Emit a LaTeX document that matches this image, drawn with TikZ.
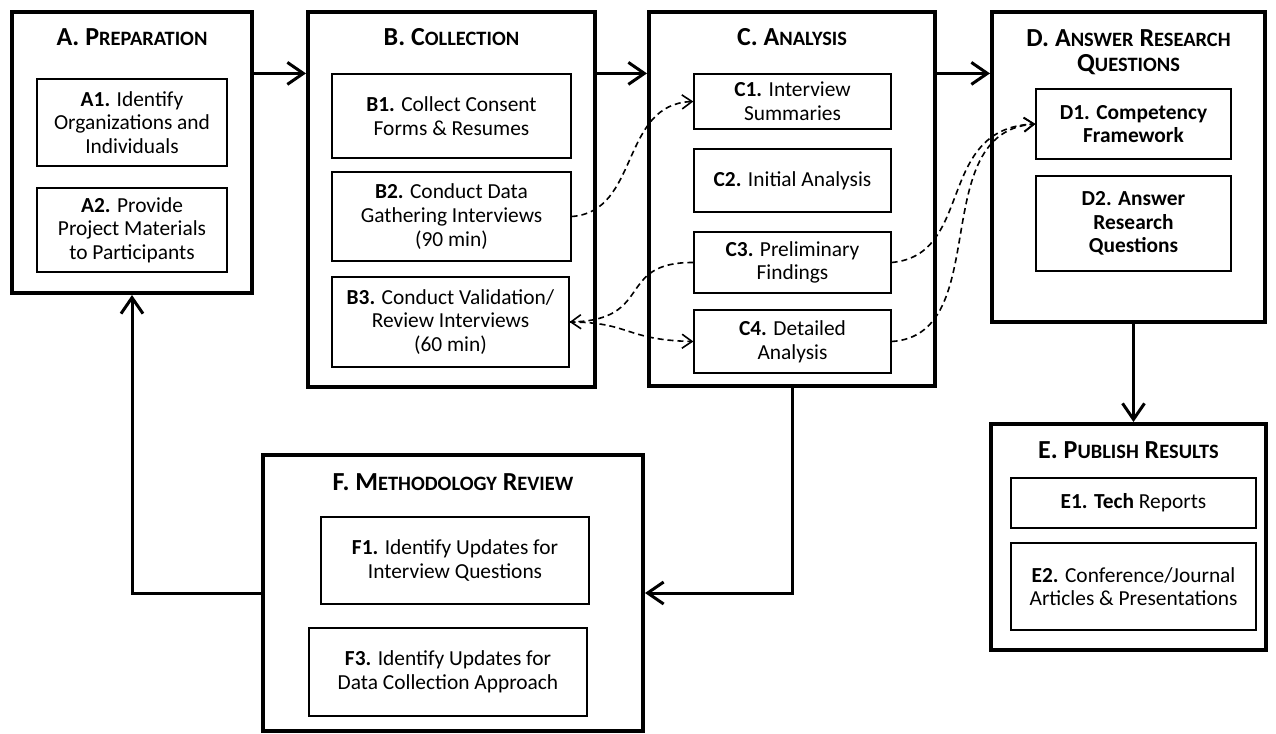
\documentclass[tikz,border=0pt]{standalone}
\usepackage{fontspec}
\setmainfont{Carlito}
\usetikzlibrary{arrows.meta, positioning}
\newcommand{\bodyfont}{\fontsize{10.7}{11.8}\selectfont}
\newcommand{\titlefont}{\fontsize{13}{12.6}\selectfont\bfseries}
% Carlito has no small caps, so set them by hand
\newcommand{\capword}[2]{#1{\fontsize{10.2}{10}\selectfont\MakeUppercase{#2}}}
\tikzset{
  stage-box/.style={
    draw=black, line width=2pt, fill=white, inner sep=0pt
  },
  stage-title/.style={font=\titlefont, align=center, inner sep=0pt},
  task-box/.style={
    draw=black, line width=0.6pt, fill=white, align=center, font=\bodyfont,
    inner sep=1pt
  },
  stage-edge/.style={-{Straight Barb[length=8pt, width=11pt]}, line width=1.5pt},
  link-edge/.style={-{Straight Barb[length=5pt, width=7pt]}, line width=0.8pt,
    dash pattern=on 3pt off 2pt}
}

\begin{document}
\begin{tikzpicture}[x=0.5pt, y=-0.5pt]
  \useasboundingbox (0,0) rectangle (1276,734);

  % stages
  \node[stage-box, minimum width=120pt,   minimum height=140.5pt] (stageA) at (132,152.5)  {};
  \node[stage-box, minimum width=143.5pt, minimum height=187.5pt] (stageB) at (451.5,199.5) {};
  \node[stage-box, minimum width=143pt,   minimum height=187pt]   (stageC) at (792,199)     {};
  \node[stage-box, minimum width=136.5pt, minimum height=155pt]   (stageD) at (1128.5,167)  {};
  \node[stage-box, minimum width=137.5pt, minimum height=113pt]   (stageE) at (1128.5,537)  {};
  \node[stage-box, minimum width=190pt,   minimum height=138pt]   (stageF) at (453,593)     {};

  \node[stage-title] (titleA) at (132,37)    {A. \capword{P}{reparation}};
  \node[stage-title] (titleB) at (451.5,37)  {B. \capword{C}{ollection}};
  \node[stage-title] (titleC) at (792,37)    {C. \capword{A}{nalysis}};
  \node[stage-title] (titleD) at (1128.5,52)
    {D. \capword{A}{nswer} \capword{R}{esearch}\\\capword{Q}{uestions}};
  \node[stage-title] (titleE) at (1128.5,450) {E. \capword{P}{ublish} \capword{R}{esults}};
  \node[stage-title] (titleF) at (453,482)   {F. \capword{M}{ethodology} \capword{R}{eview}};

  % tasks
  \node[task-box, minimum width=95pt, minimum height=43.5pt] (taskA1) at (132,122.5)
    {\textbf{A1.} Identify\\Organizations and\\Individuals};
  \node[task-box, minimum width=95pt, minimum height=42pt] (taskA2) at (132,230)
    {\textbf{A2.} Provide\\Project Materials\\to Participants};

  \node[task-box, minimum width=119.5pt, minimum height=42pt] (taskB1) at (451.5,116)
    {\textbf{B1.} Collect Consent\\Forms \& Resumes};
  \node[task-box, minimum width=119.5pt, minimum height=44.5pt] (taskB2) at (451.5,216.5)
    {\textbf{B2.} Conduct Data\\Gathering Interviews\\(90 min)};
  \node[task-box, minimum width=118.5pt, minimum height=45pt] (taskB3) at (450.5,322)
    {\textbf{B3.} Conduct Validation/\\Review Interviews\\(60 min)};

  \node[task-box, minimum width=98.5pt, minimum height=27.5pt] (taskC1) at (792.5,101.5)
    {\textbf{C1.} Interview\\Summaries};
  \node[task-box, minimum width=98.5pt, minimum height=31.5pt] (taskC2) at (792.5,180.5)
    {\textbf{C2.} Initial Analysis};
  \node[task-box, minimum width=98.5pt, minimum height=30.5pt] (taskC3) at (792.5,262.5)
    {\textbf{C3.} Preliminary\\Findings};
  \node[task-box, minimum width=98.5pt, minimum height=31.5pt] (taskC4) at (792.5,341.5)
    {\textbf{C4.} Detailed\\Analysis};

  \node[task-box, minimum width=97.5pt, minimum height=35pt] (taskD1) at (1133.5,124)
    {\textbf{D1. Competency}\\\textbf{Framework}};
  \node[task-box, minimum width=97.5pt, minimum height=47.5pt] (taskD2) at (1133.5,223.5)
    {\textbf{D2. Answer}\\\textbf{Research}\\\textbf{Questions}};

  \node[task-box, minimum width=122.5pt, minimum height=25pt] (taskE1) at (1133.5,503)
    {\textbf{E1. Tech} Reports};
  \node[task-box, minimum width=122.5pt, minimum height=43.5pt] (taskE2) at (1133.5,586.5)
    {\textbf{E2.} Conference/Journal\\Articles \& Presentations};

  \node[task-box, minimum width=134pt, minimum height=43.5pt] (taskF1) at (455,560.5)
    {\textbf{F1.} Identify Updates for\\Interview Questions};
  \node[task-box, minimum width=139pt, minimum height=44pt] (taskF3) at (448,672)
    {\textbf{F3.} Identify Updates for\\Data Collection Approach};

  % main flow
  \draw[stage-edge] (stageA.east |- taskB1.north) -- (stageB.west |- taskB1.north);
  \draw[stage-edge] (stageB.east |- taskC1.north) -- (stageC.west |- taskC1.north);
  \draw[stage-edge] (stageC.east |- taskC1.north) -- (stageD.west |- taskC1.north);
  \draw[stage-edge] (taskD1.center |- stageD.south) -- (taskD1.center |- stageE.north);
  \draw[stage-edge] (stageC.south) |- (stageF.east);
  \draw[stage-edge] (stageF.west) -| (stageA.south);

  % dashed links between tasks
  \draw[link-edge] (taskB2.east) .. controls (640,212) and (620,104) .. (taskC1.west);
  \draw[link-edge] (taskC3.west) .. controls (615,262) and (655,320) .. (taskB3.east);
  \draw[link-edge] (taskB3.east) .. controls (630,322) and (625,340) .. (taskC4.west);
  \draw[link-edge] (taskC3.east) .. controls (975,255) and (935,128) .. (taskD1.west);
  \draw[link-edge] (taskC4.east) .. controls (995,335) and (925,132) .. (taskD1.west);
\end{tikzpicture}
\end{document}
